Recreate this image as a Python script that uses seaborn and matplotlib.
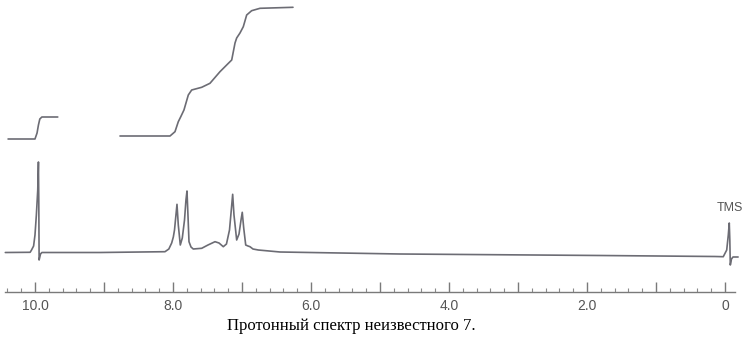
import numpy as np
import pandas as pd
import matplotlib
matplotlib.use("Agg")
import matplotlib.pyplot as plt
from matplotlib.ticker import FixedLocator, FixedFormatter
import seaborn as sns

# ---- data (chemical shift in ppm, signal height in arbitrary units) ----
spec_ppm = [10.43, 10.07, 10.05, 10.02, 10.00, 9.98, 9.96, 9.95, 9.945, 9.94, 9.92, 9.90, 9.06,
            8.116, 8.06, 8.019, 7.995, 7.978, 7.957, 7.942, 7.923, 7.894, 7.865, 7.833, 7.812, 7.797, 7.783,
            7.768, 7.739, 7.706, 7.584, 7.493, 7.391, 7.333, 7.271, 7.225, 7.181, 7.155, 7.135,
            7.116, 7.077, 7.043, 7.014, 6.996, 6.975, 6.946, 6.913, 6.884, 6.841, 6.764, 6.449,
            4.71, 1.81, 0.145, 0.025, -0.025, -0.048, -0.062, -0.07, -0.077, -0.094, -0.116, -0.19]
spec_int = [0.5, 0.7, 3, 7, 18, 38, 63, 91, 53, -7, -1, 0.5, 0.5,
            1.3, 4, 10, 16, 23, 38, 48.7, 28, 8, 15, 33, 53, 62, 38,
            11.3, 6, 4, 4.7, 8, 11.3, 10, 6.3, 9, 23, 43, 58.7,
            38, 13, 19, 33, 40.7, 25, 8, 7, 6.3, 4, 3, 1,
            -1, -2.5, -3.5, -3.7, 3, 18, 30, 13, -12, -6, -4, -4]

integ1_ppm = [10.39, 10.00, 9.97, 9.95, 9.93, 9.90, 9.67]
integ1_val = [114, 114, 120, 128, 134, 136, 136]

integ2_ppm = [8.768, 8.043, 7.971, 7.923, 7.887, 7.841, 7.778, 7.729, 7.584, 7.464, 7.319,
              7.222, 7.149, 7.101, 7.077, 7.029, 6.981, 6.932, 6.860, 6.739, 6.261]
integ2_val = [117, 117, 121.3, 131.3, 136.3, 143, 158, 163, 165.7, 169.7, 181.3,
              188, 193, 210, 215, 220, 226.3, 238, 242.3, 244.7, 245.7]

major_ticks = [10, 9, 8, 7, 6, 5, 4, 3, 2, 1, 0]
major_labels = ["10.0", "", "8.0", "", "6.0", "", "4.0", "", "2.0", "", "0"]
minor_ticks = [round(10.4 - 0.2 * i, 1) for i in range(52)]
minor_ticks = [t for t in minor_ticks if abs(t - round(t)) > 1e-6]

caption = "Протонный спектр неизвестного 7."
peak_label = "TMS"

# ---- drawing ----
sns.set_style("white")
plt.rcParams["font.family"] = ["Liberation Sans", "DejaVu Sans"]

line_col = "#6c6c74"
fig = plt.figure(figsize=(7.47, 3.37), dpi=100)
ax = fig.add_axes([0, 0, 1, 1])

spec = pd.DataFrame({"ppm": spec_ppm, "I": spec_int})
i1 = pd.DataFrame({"ppm": integ1_ppm, "I": integ1_val})
i2 = pd.DataFrame({"ppm": integ2_ppm, "I": integ2_val})
for d in (spec, i1, i2):
    sns.lineplot(data=d, x="ppm", y="I", ax=ax, color=line_col, lw=1.2,
                 sort=False, estimator=None)

ax.set_xlim(10.507, -0.319)
ax.set_ylim(-84, 253)
ax.set_xlabel("")
ax.set_ylabel("")

for s in ("top", "left", "right"):
    ax.spines[s].set_visible(False)
ax.spines["bottom"].set_position(("data", -39))
ax.spines["bottom"].set_bounds(10.43, -0.145)
ax.spines["bottom"].set_color("#7a7a7a")
ax.spines["bottom"].set_linewidth(1.0)

ax.xaxis.set_major_locator(FixedLocator(major_ticks))
ax.xaxis.set_major_formatter(FixedFormatter(major_labels))
ax.xaxis.set_minor_locator(FixedLocator(minor_ticks))
ax.tick_params(axis="x", which="both", bottom=True)
ax.tick_params(axis="x", which="major", direction="in", length=7.2, width=1.0,
               color="#7a7a7a", labelsize=10, labelcolor="#555555", pad=5)
ax.tick_params(axis="x", which="minor", direction="in", length=2.6, width=0.8,
               color="#8a8a8a")
ax.set_yticks([])

ax.text(-0.07, 45, peak_label, ha="center", va="center", fontsize=9, color="#555555")

fig.text(351 / 747, 1 - 326 / 337, caption, ha="center", va="center",
         fontsize=12, family=["Liberation Serif", "DejaVu Serif"], color="black")

fig.savefig("out.png", dpi=100)
